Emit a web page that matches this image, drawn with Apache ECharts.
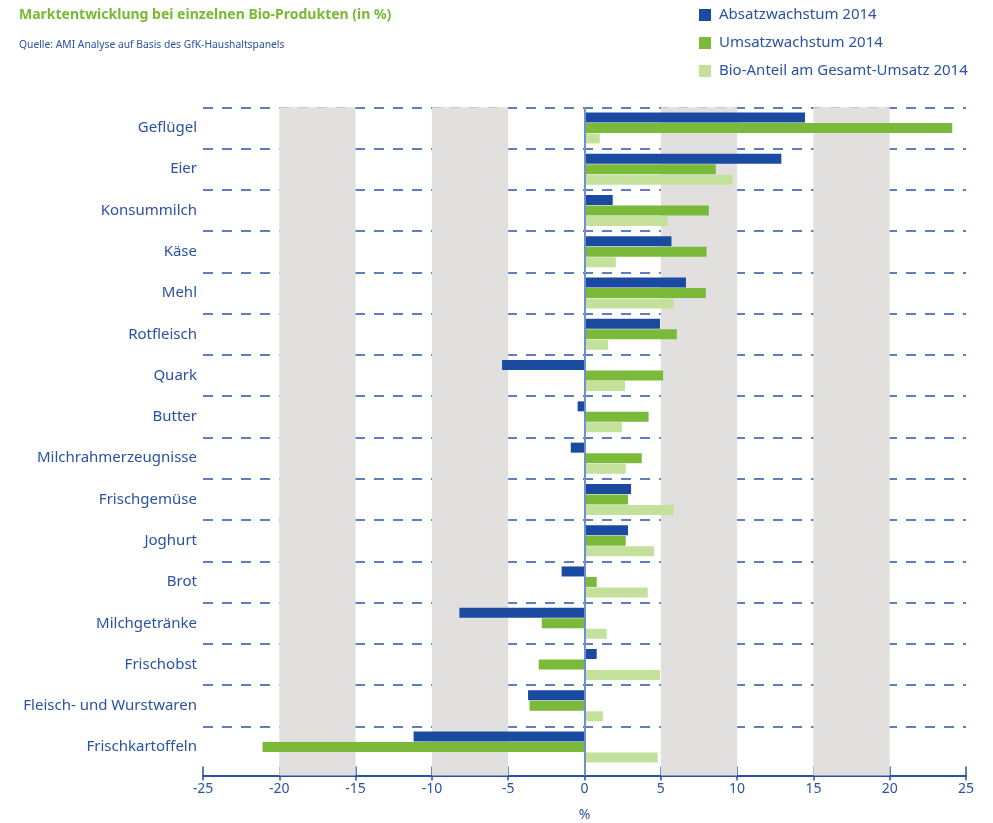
<!DOCTYPE html>
<html>
<head>
<meta charset="utf-8">
<script src="https://cdn.jsdelivr.net/npm/echarts@6/dist/echarts.min.js"></script>
<style>
html,body{margin:0;padding:0;background:#fff;}
#chart{width:993px;height:823px;}
</style>
</head>
<body>
<div id="chart"></div>
<script>
const categories = ["Geflügel","Eier","Konsummilch","Käse","Mehl","Rotfleisch","Quark","Butter","Milchrahmerzeugnisse","Frischgemüse","Joghurt","Brot","Milchgetränke","Frischobst","Fleisch- und Wurstwaren","Frischkartoffeln"];
const absatz = [14.45, 12.9, 1.85, 5.7, 6.65, 4.95, -5.4, -0.45, -0.9, 3.05, 2.85, -1.5, -8.2, 0.8, -3.7, -11.2];
const umsatz = [24.1, 8.6, 8.15, 8.0, 7.95, 6.05, 5.15, 4.2, 3.75, 2.85, 2.7, 0.8, -2.8, -3.0, -3.6, -21.1];
const anteil = [1.0, 9.7, 5.45, 2.05, 5.85, 1.55, 2.65, 2.45, 2.7, 5.85, 4.55, 4.15, 1.45, 4.95, 1.2, 4.8];
const seriesNames = ["Absatzwachstum 2014","Umsatzwachstum 2014","Bio-Anteil am Gesamt-Umsatz 2014"];
const bands = [[-20,-15],[-10,-5],[5,10],[15,20]];
const xMin = -25, xMax = 25, xStep = 5;

const BLUE_TXT = '#2a52a3';
const FONT = 'Noto Sans';
const chart = echarts.init(document.getElementById('chart'), null, {renderer:'canvas'});

const barSeries = [absatz, umsatz, anteil].map((d, i) => ({
  name: seriesNames[i],
  type: 'bar',
  xAxisIndex: 0, yAxisIndex: 0,
  data: d,
  barWidth: 10,
  barGap: '5%',
  itemStyle: {color: ['#1b4ba0','#7ab93a','#c3e19a'][i]},
  z: 3
}));

chart.setOption({
  animation: false,
  textStyle: {fontFamily: FONT},
  title: [
    {text: 'Marktentwicklung bei einzelnen Bio-Produkten (in %)', left: 19, top: 8, padding: 0,
     textStyle: {color: '#7ab833', fontSize: 14, fontWeight: 'bold', fontFamily: FONT}},
    {text: 'Quelle: AMI Analyse auf Basis des GfK-Haushaltspanels', left: 19, top: 40, padding: 0,
     textStyle: {color: BLUE_TXT, fontSize: 10.3, fontWeight: 'normal', fontFamily: FONT}}
  ],
  legend: {
    data: seriesNames,
    orient: 'vertical',
    left: 699, top: 6, padding: 0,
    icon: 'rect',
    itemWidth: 12, itemHeight: 12,
    itemGap: 10,
    textStyle: {color: BLUE_TXT, fontSize: 15, lineHeight: 18, fontFamily: FONT, padding: [0,0,0,3]}
  },
  grid: [
    {left: 203, right: 27, top: 107.3, bottom: 55.3, containLabel: false, outerBoundsMode: 'none'},
    {left: 203, right: 27, top: 107.3, bottom: 47.5, containLabel: false, outerBoundsMode: 'none'}
  ],
  xAxis: [
    {type: 'value', gridIndex: 0, min: xMin, max: xMax, interval: xStep, offset: 7.8,
     axisLine: {show: false},
     axisTick: {show: true, inside: true, length: 9, lineStyle: {color: '#2a52a3', width: 1.5}},
     axisLabel: {show: false}, splitLine: {show: false}},
    {type: 'value', gridIndex: 1, min: xMin, max: xMax, interval: xStep,
     axisLine: {show: true, onZero: false, lineStyle: {color: '#2a52a3', width: 2}},
     axisTick: {show: true, length: 5, lineStyle: {color: '#2a52a3', width: 1.5}},
     axisLabel: {color: BLUE_TXT, fontSize: 14, margin: 7, fontFamily: FONT},
     splitLine: {show: false},
     name: '%', nameLocation: 'middle', nameGap: 33,
     nameTextStyle: {color: BLUE_TXT, fontSize: 14, fontFamily: FONT}}
  ],
  yAxis: [
    {type: 'category', gridIndex: 0, data: categories, inverse: true,
     axisLine: {show: false}, axisTick: {show: false},
     axisLabel: {color: BLUE_TXT, fontSize: 15, margin: 6, fontFamily: FONT},
     splitLine: {show: true, showMinLine: true, showMaxLine: false,
       lineStyle: {color: '#2b55a6', width: 1.5, type: [10, 9]}}},
    {type: 'value', gridIndex: 1, min: 0, max: 1, show: false}
  ],
  series: [
    {type: 'line', xAxisIndex: 1, yAxisIndex: 1, data: [], z: -5, silent: true,
     markArea: {silent: true, itemStyle: {color: '#e1e0df'},
       data: bands.map(b => [{xAxis: b[0]}, {xAxis: b[1]}])},
     markLine: {silent: true, symbol: 'none', label: {show: false},
       lineStyle: {color: '#6f8fd1', width: 2, type: 'solid'},
       data: [{xAxis: 0}]}
    },
    ...barSeries
  ]
});
</script>
</body>
</html>
